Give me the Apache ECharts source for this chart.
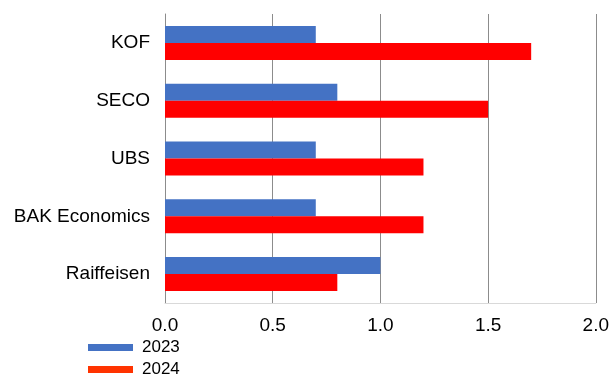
<!DOCTYPE html>
<html>
<head>
<meta charset="utf-8">
<script src="https://cdn.jsdelivr.net/npm/echarts@6/dist/echarts.min.js"></script>
<style>
  html, body { margin: 0; padding: 0; background: #fff; }
  #chart { width: 612px; height: 374px; }
</style>
</head>
<body>
<div id="chart"></div>
<script>
// prognosen nach institut
var categories = ['KOF', 'SECO', 'UBS', 'BAK Economics', 'Raiffeisen'];
var values2023 = [0.7, 0.8, 0.7, 0.7, 1.0];
var values2024 = [1.7, 1.5, 1.2, 1.2, 0.8];
var xTicks = [0, 0.5, 1.0, 1.5, 2.0];

function legendBox(name, color, top) {
    return {
        orient: 'vertical',
        left: 88,
        top: top,
        padding: 0,
        itemWidth: 45,
        itemHeight: 7,
        icon: 'rect',
        textStyle: { fontSize: 17, color: '#000', padding: [0, 0, 0, 4] },
        data: [{ name: name, itemStyle: { color: color } }]
    };
}

var myChart = echarts.init(document.getElementById('chart'));
var option = {
    animation: false,
    textStyle: { fontFamily: 'Liberation Sans, Arial, sans-serif' },
    grid: { left: 165, right: 14, top: 14, bottom: 71 },
    legend: [
        legendBox('2023', '#4472C4', 339),
        legendBox('2024', '#FF3300', 361)
    ],
    xAxis: {
        type: 'value',
        min: xTicks[0],
        max: xTicks[xTicks.length - 1],
        interval: 0.5,
        axisLabel: {
            fontSize: 19, color: '#000', margin: 13,
            formatter: function (v) { return v.toFixed(1); }
        },
        axisLine: { show: true, lineStyle: { color: '#d9d9d9', width: 1 } },
        axisTick: { show: false },
        splitLine: { show: true, lineStyle: { color: '#8c8c8c', width: 1 } }
    },
    yAxis: {
        type: 'category',
        inverse: true,
        data: categories,
        axisLabel: { fontSize: 19, color: '#000', margin: 15 },
        axisLine: { show: true, lineStyle: { color: '#8c8c8c', width: 1 } },
        axisTick: { show: false }
    },
    series: [
        {
            name: '2023', type: 'bar', data: values2023,
            barWidth: 17, barGap: '0%',
            itemStyle: { color: '#4472C4' }
        },
        {
            name: '2024', type: 'bar', data: values2024,
            barWidth: 17, barGap: '0%',
            itemStyle: { color: '#FF0000' }
        }
    ]
};
myChart.setOption(option);
</script>
</body>
</html>
